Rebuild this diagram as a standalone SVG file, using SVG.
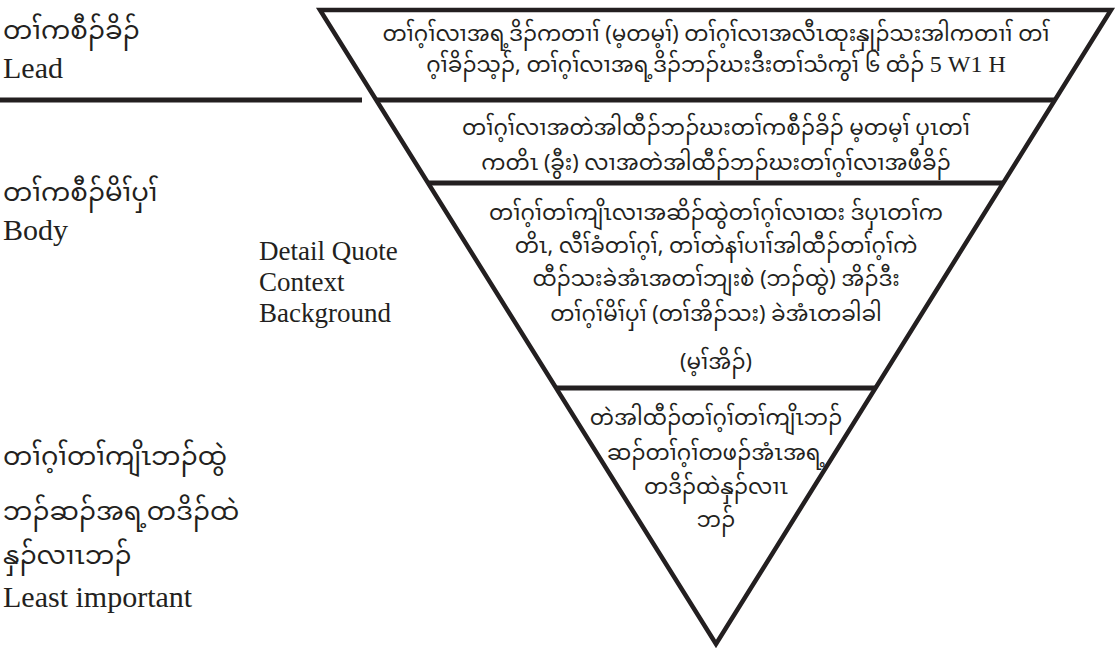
<svg xmlns="http://www.w3.org/2000/svg" width="1117" height="650" viewBox="0 0 1117 650">
<style>
.kar{font-family:"Noto Sans Myanmar","Padauk","Myanmar Text","Noto Sans",sans-serif;font-size:21.5px;fill:#231f20}
.lbl{font-family:"Noto Sans Myanmar","Padauk","Myanmar Text","Noto Sans",sans-serif;font-size:26px;fill:#231f20}
.en{font-family:"Liberation Serif","Times New Roman",serif;font-size:30px;fill:#231f20}
.en2{font-family:"Liberation Serif","Times New Roman",serif;font-size:27px;fill:#231f20}
.c{text-anchor:middle}
.edge{fill:none;stroke:#231f20;stroke-width:4.5;stroke-linejoin:miter}
.sep{stroke:#231f20;stroke-width:5}
</style>
<rect width="1117" height="650" fill="#ffffff"/>
<g id="connectors">
<polygon class="edge" points="320,10 1111,10 716,644"/>
<line class="sep" x1="0" y1="100" x2="362" y2="100"/>
<line class="sep" x1="376" y1="100" x2="1055" y2="100"/>
<line class="sep" x1="428" y1="183" x2="1003" y2="183"/>
<line class="sep" x1="556" y1="388" x2="876" y2="388"/>
</g>
<g id="label-lead">
<text class="lbl" x="3" y="39">တၢ်ကစီၣ်ခိၣ်</text>
<text class="en" x="3" y="78">Lead</text>
</g>
<g id="label-body">
<text class="lbl" x="3" y="201">တၢ်ကစီၣ်မိၢ်ပှၢ်</text>
<text class="en" x="3" y="240">Body</text>
</g>
<g id="label-detail">
<text class="en2" x="259" y="260">Detail Quote</text>
<text class="en2" x="259" y="291">Context</text>
<text class="en2" x="259" y="322">Background</text>
</g>
<g id="label-least">
<text class="lbl" x="3" y="465">တၢ်ဂ့ၢ်တၢ်ကျိၤဘၣ်ထွဲ</text>
<text class="lbl" x="3" y="520">ဘၣ်ဆၣ်အရ့တဒိၣ်ထဲ</text>
<text class="lbl" x="3" y="564">နှၣ်လၢၤဘၣ်</text>
<text class="en" x="3" y="607">Least important</text>
</g>
<g id="box-lead">
<text class="kar c" x="716" y="41">တၢ်ဂ့ၢ်လၢအရ့ဒိၣ်ကတၢၢ် (မ့တမ့ၢ်) တၢ်ဂ့ၢ်လၢအလီၤထုးနှုၣ်သးအါကတၢၢ် တၢ်</text>
<text class="kar c" x="716" y="72">ဂ့ၢ်ခိၣ်သ့ၣ်, တၢ်ဂ့ၢ်လၢအရ့ဒိၣ်ဘၣ်ဃးဒီးတၢ်သံကွၢ် ၆ ထံၣ် <tspan font-family="Liberation Serif, serif" font-size="24">5 W1 H</tspan></text>
</g>
<g id="box-body1">
<text class="kar c" x="716" y="135">တၢ်ဂ့ၢ်လၢအတဲအါထီၣ်ဘၣ်ဃးတၢ်ကစီၣ်ခိၣ် မ့တမ့ၢ် ပှၤတၢ်</text>
<text class="kar c" x="716" y="170">ကတိၤ (ခွီး) လၢအတဲအါထီၣ်ဘၣ်ဃးတၢ်ဂ့ၢ်လၢအဖီခိၣ်</text>
</g>
<g id="box-body2">
<text class="kar c" x="716" y="220">တၢ်ဂ့ၢ်တၢ်ကျိၤလၢအဆိၣ်ထွဲတၢ်ဂ့ၢ်လၢထး ဒ်ပှၤတၢ်က</text>
<text class="kar c" x="716" y="253">တိၤ, လီၢ်ခံတၢ်ဂ့ၢ်, တၢ်တဲနၢ်ပၢၢ်အါထီၣ်တၢ်ဂ့ၢ်ကဲ</text>
<text class="kar c" x="716" y="286">ထီၣ်သးခဲအံၤအတၢ်ဘျးစဲ (ဘၣ်ထွဲ) အိၣ်ဒီး</text>
<text class="kar c" x="716" y="321">တၢ်ဂ့ၢ်မိၢ်ပှၢ် (တၢ်အိၣ်သး) ခဲအံၤတခါခါ</text>
<text class="kar c" x="716" y="369">(မ့ၢ်အိၣ်)</text>
</g>
<g id="box-least">
<text class="kar c" x="716" y="425">တဲအါထီၣ်တၢ်ဂ့ၢ်တၢ်ကျိၤဘၣ်</text>
<text class="kar c" x="716" y="460">ဆၣ်တၢ်ဂ့ၢ်တဖၣ်အံၤအရ့</text>
<text class="kar c" x="716" y="494">တဒိၣ်ထဲနှၣ်လၢၤ</text>
<text class="kar c" x="716" y="527">ဘၣ်</text>
</g>
</svg>
